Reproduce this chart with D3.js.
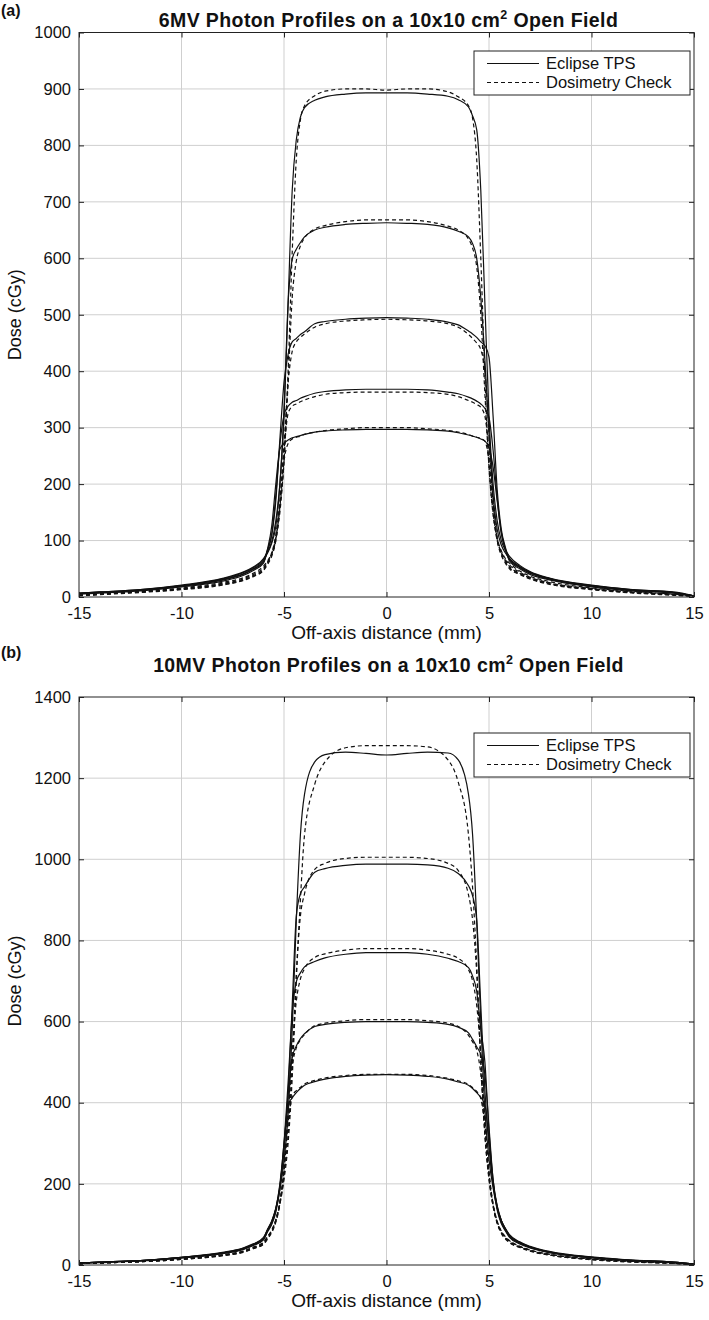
<!DOCTYPE html>
<html>
<head>
<meta charset="utf-8">
<script src="https://cdn.jsdelivr.net/npm/d3@7"></script>
<style>
  body { margin: 0; background: #fff; }
  text { font-family: "Liberation Sans", Arial, Helvetica, sans-serif; fill: #111; }
</style>
</head>
<body>
<div id="chart"></div>
<script>
// Off-axis positions shared by every profile (mm)
var offAxis = [-15, -14, -12, -10, -8, -7, -6.5, -6,
  -5.8, -5.6, -5.4, -5.2, -5, -4.8, -4.6, -4.4, -4.2, -4,
  -3.5, -3, -2, -1, 0, 1, 2, 3, 3.5,
  4, 4.2, 4.4, 4.6, 4.8, 5, 5.2, 5.4, 5.6, 5.8,
  6, 6.5, 7, 8, 10, 12, 14, 15];

var xTicks = [-15, -10, -5, 0, 5, 10, 15];
var yTicks6 = [0, 100, 200, 300, 400, 500, 600, 700, 800, 900, 1000];
var yTicks10 = [0, 200, 400, 600, 800, 1000, 1200, 1400];
var seriesNames = ["Eclipse TPS", "Dosimetry Check"];

// 6MV profiles (cGy), one row per depth
var eclipse6 = [
  [7, 9, 13, 21, 33, 44, 53, 68,
   80, 98, 135, 200, 320, 520, 720, 810, 850, 867,
   880, 886, 891, 893, 893, 893, 891, 887, 881,
   868, 852, 828, 720, 520, 320, 200, 135, 100, 83,
   72, 56, 45, 33, 21, 13, 9, 2],
  [7, 9, 13, 20, 32, 43, 52, 66,
   78, 95, 125, 200, 330, 520, 598, 616, 628, 638,
   650, 655, 660, 662, 663, 662, 660, 654, 648,
   638, 626, 600, 530, 420, 290, 180, 120, 92, 78,
   68, 54, 44, 32, 20, 13, 8, 2],
  [6, 8, 12, 20, 31, 41, 50, 64,
   85, 110, 170, 280, 380, 430, 452, 458, 465, 470,
   484, 488, 492, 494, 495, 494, 492, 487, 482,
   471, 466, 460, 452, 445, 425, 320, 190, 120, 88,
   68, 53, 43, 32, 20, 12, 8, 2],
  [6, 8, 12, 19, 30, 40, 49, 62,
   82, 110, 180, 270, 322, 338, 345, 348, 352, 355,
   361, 364, 367, 368, 368, 368, 367, 363, 360,
   354, 351, 347, 342, 334, 318, 260, 175, 112, 84,
   66, 52, 42, 31, 19, 12, 8, 2],
  [5, 7, 11, 18, 28, 38, 47, 60,
   85, 125, 200, 262, 272, 278, 282, 284, 286, 288,
   292, 294, 296, 297, 297, 297, 296, 294, 291,
   287, 285, 283, 280, 276, 265, 230, 170, 115, 85,
   64, 50, 40, 30, 18, 11, 7, 2]
];

var dc6 = [
  [3, 5, 10, 16, 26, 34, 42, 55,
   64, 78, 105, 160, 240, 400, 610, 775, 845, 870,
   888, 896, 900, 900, 898, 900, 900, 895, 886,
   870, 848, 775, 600, 390, 230, 150, 105, 82, 68,
   60, 46, 37, 27, 16, 10, 5, 2],
  [3, 5, 9, 15, 24, 32, 40, 52,
   62, 76, 100, 150, 240, 380, 530, 595, 622, 636,
   652, 658, 665, 668, 668, 668, 665, 657, 650,
   634, 618, 585, 500, 360, 230, 145, 100, 80, 66,
   57, 44, 35, 25, 15, 9, 5, 2],
  [3, 5, 9, 14, 23, 30, 38, 50,
   62, 78, 110, 170, 270, 380, 435, 452, 460, 466,
   478, 484, 489, 491, 492, 491, 489, 484, 478,
   465, 458, 450, 438, 400, 290, 170, 105, 78, 64,
   54, 42, 34, 24, 14, 8, 4, 1],
  [3, 5, 9, 14, 22, 30, 37, 48,
   60, 75, 105, 165, 260, 325, 338, 342, 346, 349,
   355, 359, 362, 363, 363, 363, 362, 359, 355,
   348, 345, 341, 336, 320, 260, 165, 102, 76, 62,
   52, 41, 33, 23, 14, 8, 4, 1],
  [2, 4, 8, 13, 21, 29, 36, 47,
   58, 72, 100, 160, 240, 272, 280, 283, 285, 288,
   292, 295, 298, 300, 300, 300, 298, 295, 292,
   288, 285, 283, 281, 276, 240, 160, 100, 74, 60,
   50, 40, 32, 22, 13, 7, 3, 1]
];

// 10MV profiles (cGy)
var eclipse10 = [
  [5, 7, 11, 19, 31, 42, 52, 68,
   88, 108, 138, 185, 255, 370, 580, 850, 1060, 1160,
   1240, 1258, 1264, 1261, 1257, 1261, 1264, 1262, 1245,
   1160, 1060, 850, 600, 380, 260, 190, 140, 110, 90,
   75, 57, 46, 33, 20, 12, 7, 2],
  [5, 7, 11, 19, 30, 41, 51, 66,
   88, 108, 140, 195, 280, 420, 640, 860, 915, 932,
   968, 977, 985, 988, 988, 988, 986, 978, 965,
   935, 910, 850, 640, 430, 290, 200, 145, 110, 90,
   73, 56, 45, 32, 19, 12, 7, 2],
  [5, 7, 11, 19, 30, 40, 50, 65,
   86, 105, 138, 200, 300, 450, 620, 698, 720, 735,
   748, 757, 766, 770, 770, 770, 766, 756, 748,
   733, 712, 675, 580, 500, 330, 210, 145, 110, 88,
   72, 55, 44, 31, 19, 11, 7, 2],
  [5, 7, 11, 18, 29, 39, 49, 63,
   84, 102, 135, 190, 290, 420, 510, 540, 558, 570,
   588, 593, 598, 600, 600, 600, 598, 593, 586,
   572, 556, 538, 518, 470, 340, 210, 140, 105, 86,
   70, 54, 43, 31, 18, 11, 6, 2],
  [4, 6, 10, 17, 28, 38, 48, 62,
   82, 100, 130, 190, 300, 395, 412, 425, 435, 443,
   452, 458, 465, 468, 469, 468, 465, 458, 451,
   443, 435, 425, 413, 395, 310, 200, 135, 102, 84,
   68, 52, 42, 30, 18, 10, 6, 2]
];

var dc10 = [
  [3, 5, 9, 15, 25, 34, 44, 56,
   70, 85, 110, 150, 210, 300, 460, 700, 900, 1060,
   1185, 1240, 1275, 1280, 1280, 1280, 1277, 1245, 1190,
   1060, 930, 740, 500, 320, 210, 145, 105, 82, 68,
   60, 46, 37, 26, 15, 9, 5, 1],
  [3, 5, 9, 15, 25, 34, 43, 56,
   70, 86, 112, 155, 220, 320, 490, 720, 860, 915,
   975, 990, 1002, 1005, 1005, 1005, 1002, 990, 972,
   912, 850, 720, 500, 320, 215, 150, 108, 84, 70,
   60, 46, 37, 26, 15, 9, 5, 1],
  [3, 5, 8, 14, 24, 33, 42, 54,
   68, 84, 110, 155, 230, 360, 530, 650, 705, 730,
   758, 767, 776, 780, 780, 780, 776, 766, 756,
   728, 700, 640, 520, 360, 230, 150, 106, 82, 68,
   58, 45, 36, 25, 14, 8, 4, 1],
  [3, 5, 8, 14, 23, 32, 41, 52,
   66, 82, 108, 155, 240, 380, 490, 535, 555, 568,
   590, 596, 602, 605, 605, 605, 602, 596, 588,
   566, 550, 530, 470, 350, 225, 148, 104, 80, 66,
   56, 44, 35, 24, 14, 8, 4, 1],
  [3, 5, 8, 14, 23, 31, 40, 51,
   64, 80, 105, 150, 230, 350, 415, 430, 438, 446,
   455, 461, 467, 470, 470, 470, 467, 460, 454,
   445, 437, 428, 410, 340, 220, 145, 102, 78, 64,
   55, 43, 34, 24, 13, 7, 4, 1]
];

// Page size
var svgWidth = 709;
var svgHeight = 1320;

var svg = d3.select("#chart")
  .append("svg")
  .attr("width", svgWidth)
  .attr("height", svgHeight);

svg.append("rect").attr("width", svgWidth).attr("height", svgHeight).attr("fill", "#fff");

function drawPanel(p) {
  var xScale = d3.scaleLinear().domain([-15, 15]).range([p.left, p.right]);
  var yScale = d3.scaleLinear().domain([0, p.yMax]).range([p.bottom, p.top]);
  var g = svg.append("g");

  // panel letter and title
  g.append("text")
    .attr("x", 1).attr("y", p.letterY)
    .style("font-size", "16px").style("font-weight", "bold")
    .text(p.letter);

  var title = g.append("text")
    .attr("x", (p.left + p.right) / 2 + 2).attr("y", p.titleY)
    .attr("text-anchor", "middle")
    .style("font-size", "19.5px").style("font-weight", "bold")
    .style("letter-spacing", "0.4px");
  title.append("tspan").text(p.title + " cm");
  title.append("tspan").attr("dy", -8).style("font-size", "12.5px").text("2");
  title.append("tspan").attr("dy", 8).text(" Open Field");

  // grid
  g.append("g").selectAll("line")
    .data(xTicks.slice(1, -1))
    .enter().append("line")
    .attr("x1", d => xScale(d)).attr("x2", d => xScale(d))
    .attr("y1", p.top).attr("y2", p.bottom)
    .attr("stroke", "#cfcfcf").attr("stroke-width", 1);
  g.append("g").selectAll("line")
    .data(p.yTicks.slice(1, -1))
    .enter().append("line")
    .attr("x1", p.left).attr("x2", p.right)
    .attr("y1", d => yScale(d)).attr("y2", d => yScale(d))
    .attr("stroke", "#cfcfcf").attr("stroke-width", 1);

  // curves
  var clipId = "clip" + p.letter.replace(/\W/g, "");
  svg.append("clipPath").attr("id", clipId)
    .append("rect")
    .attr("x", p.left).attr("y", p.top)
    .attr("width", p.right - p.left).attr("height", p.bottom - p.top);

  var line = d3.line()
    .x((d, i) => xScale(offAxis[i]))
    .y(d => yScale(d))
    .curve(d3.curveMonotoneX);

  var curves = g.append("g").attr("clip-path", "url(#" + clipId + ")");
  curves.selectAll("path.dc")
    .data(p.dc)
    .enter().append("path")
    .attr("class", "dc")
    .attr("d", line)
    .attr("fill", "none").attr("stroke", "#111").attr("stroke-width", 1.2)
    .attr("stroke-dasharray", "4,3");
  curves.selectAll("path.eclipse")
    .data(p.eclipse)
    .enter().append("path")
    .attr("class", "eclipse")
    .attr("d", line)
    .attr("fill", "none").attr("stroke", "#111").attr("stroke-width", 1.2);

  // axes, ticks pointing inward on all four sides
  var bottomAxis = d3.axisBottom(xScale).tickValues(xTicks)
    .tickSizeInner(-5).tickSizeOuter(0).tickPadding(10).tickFormat(d => String(d));
  var leftAxis = d3.axisLeft(yScale).tickValues(p.yTicks)
    .tickSizeInner(-5).tickSizeOuter(0).tickPadding(8).tickFormat(d => String(d));
  var topAxis = d3.axisTop(xScale).tickValues(xTicks).tickSizeInner(-5).tickSizeOuter(0).tickFormat("");
  var rightAxis = d3.axisRight(yScale).tickValues(p.yTicks).tickSizeInner(-5).tickSizeOuter(0).tickFormat("");

  var axes = [
    [bottomAxis, "translate(0," + p.bottom + ")"],
    [leftAxis, "translate(" + p.left + ",0)"],
    [topAxis, "translate(0," + p.top + ")"],
    [rightAxis, "translate(" + p.right + ",0)"]
  ];
  axes.forEach(a => {
    var ag = g.append("g").attr("transform", a[1]).call(a[0]);
    ag.select(".domain").remove();
    ag.selectAll("line").attr("stroke", "#222");
    ag.selectAll("text")
      .style("font-size", "16.5px")
      .style("font-family", "'Liberation Sans', Arial, sans-serif")
      .attr("fill", "#111");
  });

  g.append("rect")
    .attr("x", p.left).attr("y", p.top)
    .attr("width", p.right - p.left).attr("height", p.bottom - p.top)
    .attr("fill", "none").attr("stroke", "#222").attr("stroke-width", 1);

  // axis labels
  g.append("text")
    .attr("x", (p.left + p.right) / 2).attr("y", p.bottom + 42)
    .attr("text-anchor", "middle")
    .style("font-size", "19px")
    .text("Off-axis distance (mm)");
  g.append("text")
    .attr("transform", "translate(21," + (p.top + p.bottom) / 2 + ") rotate(-90)")
    .attr("text-anchor", "middle")
    .style("font-size", "18px")
    .text("Dose (cGy)");

  // legend
  var lg = g.append("g").attr("transform", "translate(474," + p.legendTop + ")");
  lg.append("rect")
    .attr("width", 216).attr("height", 44)
    .attr("fill", "#fff").attr("stroke", "#222").attr("stroke-width", 1);
  seriesNames.forEach((name, i) => {
    var ly = 12.5 + i * 19;
    lg.append("line")
      .attr("x1", 13).attr("x2", 65).attr("y1", ly).attr("y2", ly)
      .attr("stroke", "#111").attr("stroke-width", 1.2)
      .attr("stroke-dasharray", i === 1 ? "4,3" : null);
    lg.append("text")
      .attr("x", 72).attr("y", ly).attr("dy", "0.35em")
      .style("font-size", "16.5px")
      .text(name);
  });
}

drawPanel({
  letter: "(a)", letterY: 16, titleY: 27,
  title: "6MV Photon Profiles on a 10x10",
  left: 79, right: 694, top: 32.5, bottom: 597,
  yMax: 1000, yTicks: yTicks6,
  eclipse: eclipse6, dc: dc6,
  legendTop: 51
});

drawPanel({
  letter: "(b)", letterY: 658, titleY: 672,
  title: "10MV Photon Profiles on a 10x10",
  left: 79, right: 694, top: 697, bottom: 1265,
  yMax: 1400, yTicks: yTicks10,
  eclipse: eclipse10, dc: dc10,
  legendTop: 733
});
</script>
</body>
</html>
